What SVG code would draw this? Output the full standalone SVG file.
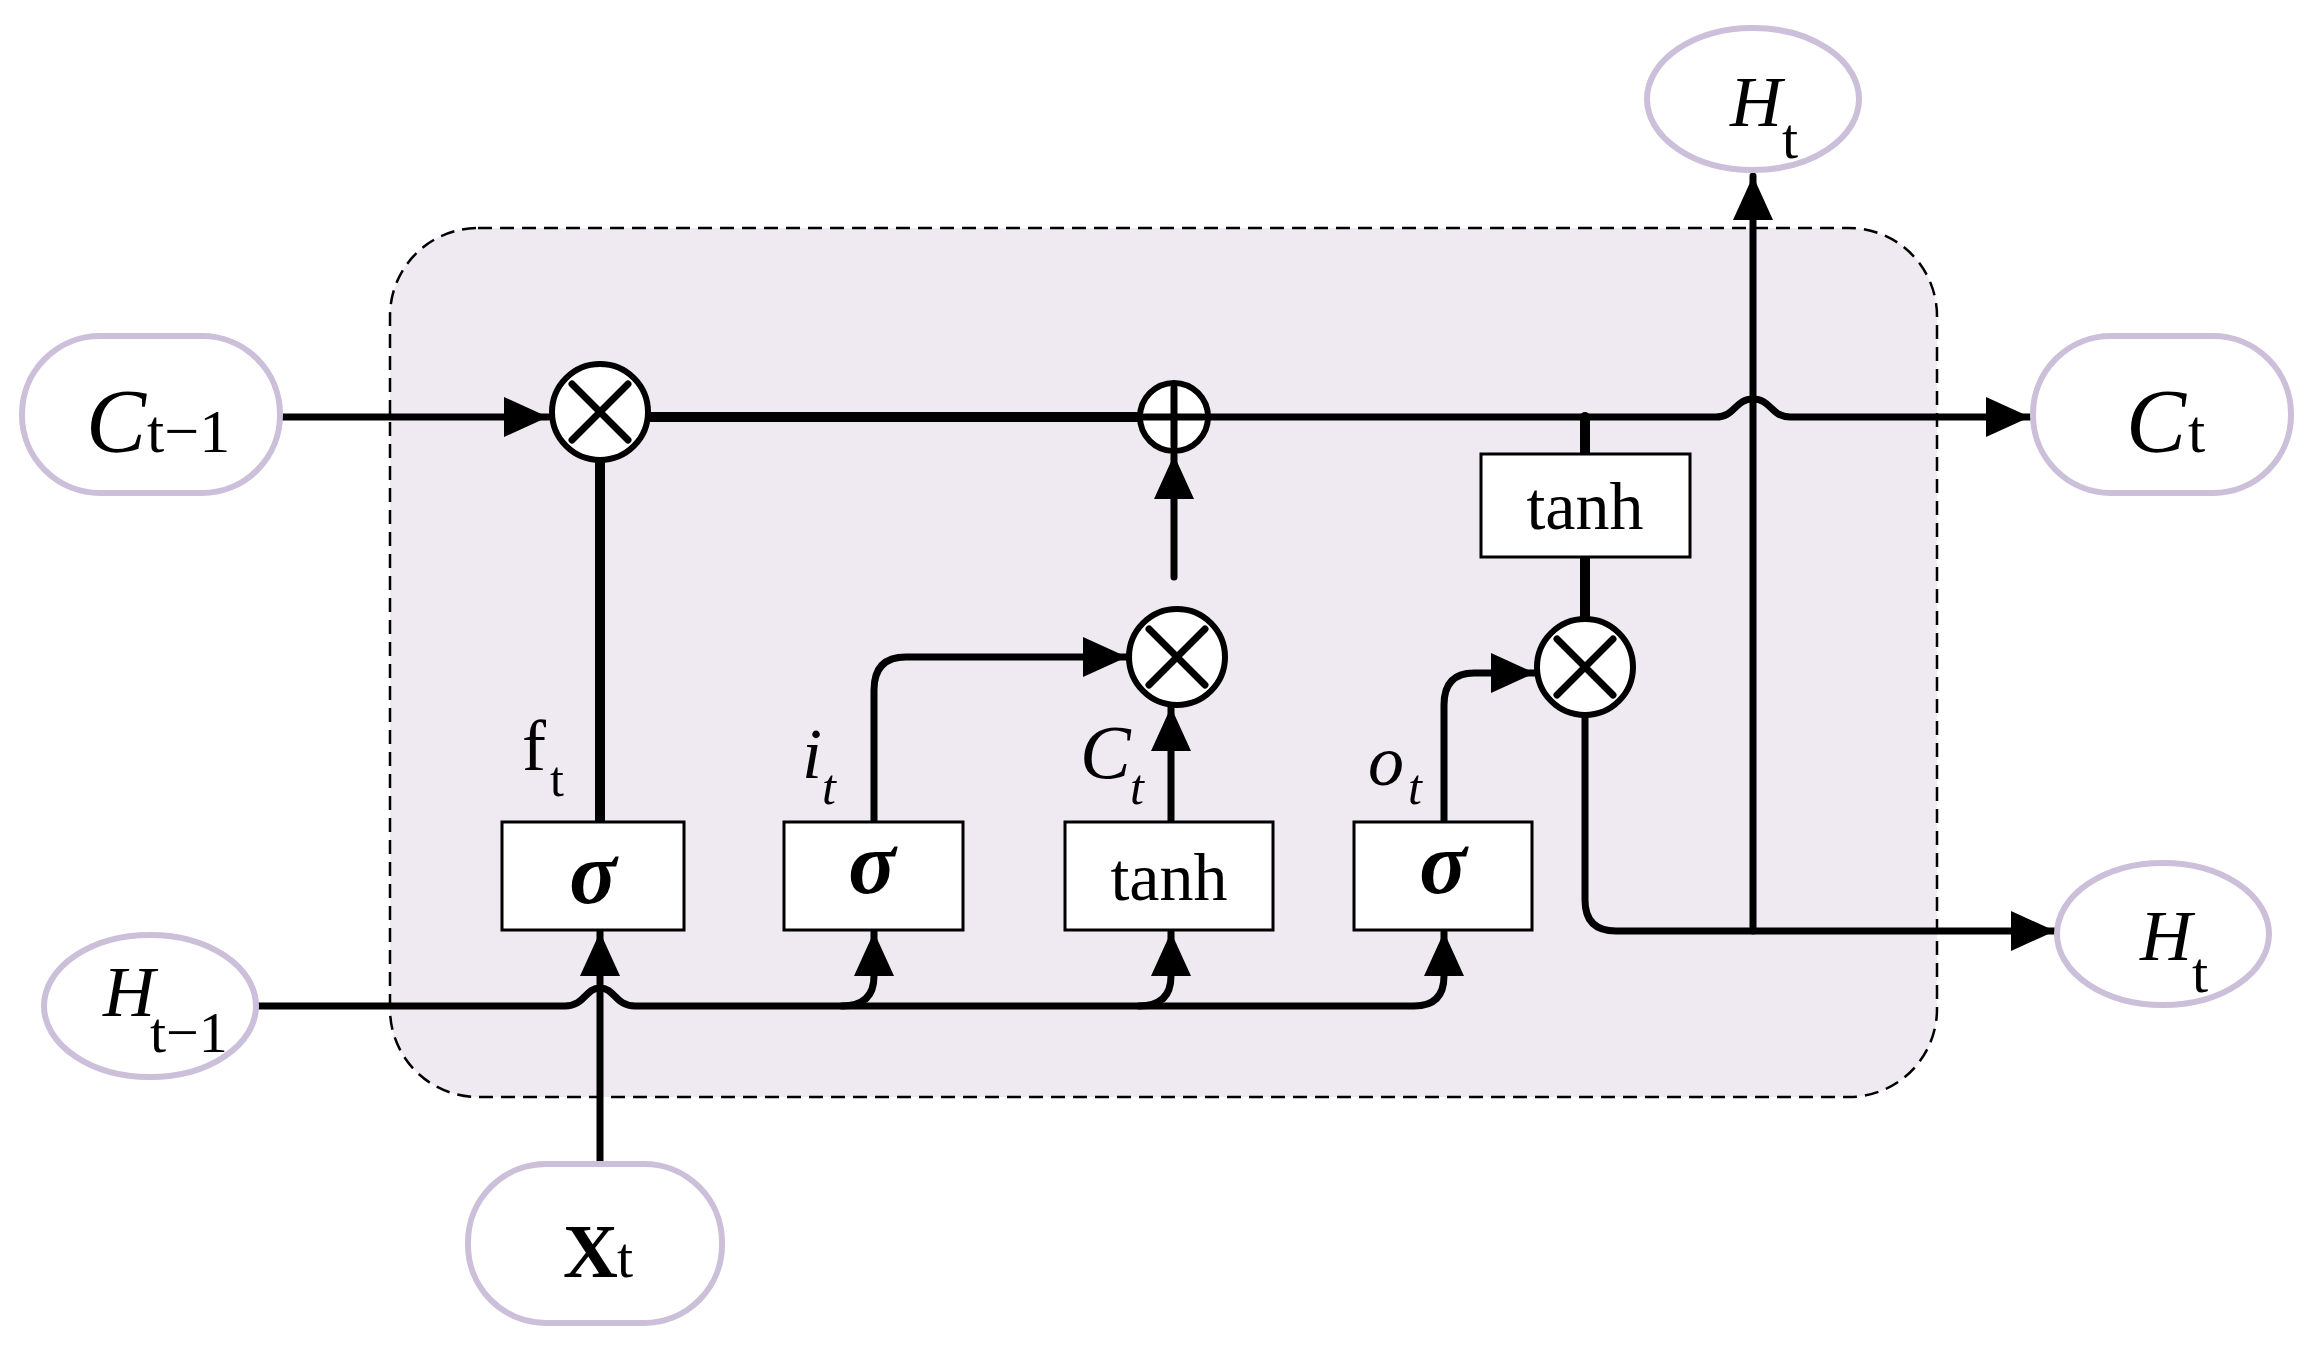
<svg xmlns="http://www.w3.org/2000/svg" width="2310" height="1351" viewBox="0 0 2310 1351">
<style>
.pill{fill:#fff;stroke:#cbbfda;stroke-width:6}
.box{fill:#fff;stroke:#000;stroke-width:3}
.op{fill:#fff;stroke:#000;stroke-width:6}
.ln{fill:none;stroke:#000;stroke-width:7;stroke-linecap:round;stroke-linejoin:round}
.thk{stroke-width:10}
text{font-family:"Liberation Serif","Times New Roman",serif;fill:#000}
.i{font-style:italic}
</style>
<defs>
<marker id="ah" markerUnits="userSpaceOnUse" markerWidth="46" markerHeight="40" refX="44" refY="20" orient="auto" viewBox="0 0 46 40"><path d="M0,0 L44,20 L0,40 z" fill="#000"/></marker>
</defs>
<rect id="cell" x="390" y="228" width="1547" height="869" rx="88" fill="#efe9f1" stroke="#000" stroke-width="2.5" stroke-dasharray="14,8"/>
<g id="connectors">
<path class="ln" d="M280,417 H548" marker-end="url(#ah)"/>
<path class="ln thk" d="M648,417 H1140"/>
<path class="ln" d="M1209,417 H1716 C1735,417 1735,399 1753,399 C1771,399 1771,417 1790,417 H2030" marker-end="url(#ah)"/>
<path class="ln thk" d="M600,460 V822"/>
<path class="ln" d="M600,1164 V932" marker-end="url(#ah)"/>
<path class="ln" d="M258,1006 H565 C585,1006 585,988 600,988 C615,988 615,1006 635,1006 H1414 Q1444,1006 1444,976 V932" marker-end="url(#ah)"/>
<path class="ln" d="M842,1006 Q874,1006 874,976 V932" marker-end="url(#ah)"/>
<path class="ln" d="M1139,1006 Q1171,1006 1171,976 V932" marker-end="url(#ah)"/>
<path class="ln" d="M874,822 V690 Q874,657 906,657 H1127" marker-end="url(#ah)"/>
<path class="ln" d="M1171,822 V707" marker-end="url(#ah)"/>
<path class="ln" d="M1174,577 V455" marker-end="url(#ah)"/>
<path class="ln" d="M1444,822 V705 Q1444,673 1474,673 H1535" marker-end="url(#ah)"/>
<path class="ln thk" d="M1585,417 V454"/>
<path class="ln thk" d="M1585,557 V619"/>
<path class="ln" d="M1585,715 V900 Q1585,931 1616,931 H2055" marker-end="url(#ah)"/>
<path class="ln" d="M1753,931 V176" marker-end="url(#ah)"/>
</g>
<g id="c_prev"><rect class="pill" x="22" y="336" width="258" height="157" rx="78"/><text x="86" y="452" font-size="90" class="i">C</text><text x="147" y="452" font-size="62">t−1</text></g>
<g id="h_prev"><ellipse class="pill" cx="150" cy="1006" rx="106" ry="71"/><text x="103" y="1016" font-size="72" class="i">H</text><text x="150" y="1052" font-size="58">t−1</text></g>
<g id="x_t"><rect class="pill" x="468" y="1164" width="254" height="159" rx="78"/><text x="563" y="1277" font-size="76" font-weight="bold">X</text><text x="617" y="1277" font-size="58">t</text></g>
<g id="h_top"><ellipse class="pill" cx="1753" cy="99" rx="106" ry="71"/><text x="1730" y="126" font-size="72" class="i">H</text><text x="1782" y="158" font-size="58">t</text></g>
<g id="c_t"><rect class="pill" x="2033" y="336" width="258" height="157" rx="78"/><text x="2126" y="452" font-size="90" class="i">C</text><text x="2188" y="452" font-size="62">t</text></g>
<g id="h_right"><ellipse class="pill" cx="2163" cy="934" rx="106" ry="71"/><text x="2140" y="960" font-size="72" class="i">H</text><text x="2192" y="992" font-size="58">t</text></g>
<g id="mul1"><circle class="op" cx="600" cy="412" r="48"/><path class="ln" d="M572,384 L628,440 M628,384 L572,440" stroke-width="6"/></g>
<g id="add"><circle class="op" cx="1174" cy="417" r="34"/><path class="ln" d="M1174,388 V446 M1145,417 H1203" stroke-width="6"/></g>
<g id="mul2"><circle class="op" cx="1177" cy="657" r="48"/><path class="ln" d="M1149,629 L1205,685 M1205,629 L1149,685" stroke-width="6"/></g>
<g id="mul3"><circle class="op" cx="1585" cy="667" r="48"/><path class="ln" d="M1557,639 L1613,695 M1613,639 L1557,695" stroke-width="6"/></g>
<g id="forget"><rect class="box" x="502" y="822" width="182" height="108"/><text x="593" y="903" font-size="88" class="i" font-weight="bold" text-anchor="middle">σ</text><text x="522" y="770" font-size="72">f</text><text x="550" y="796" font-size="50">t</text></g>
<g id="input"><rect class="box" x="784" y="822" width="179" height="108"/><text x="872" y="893" font-size="88" class="i" font-weight="bold" text-anchor="middle">σ</text><text x="802" y="778" font-size="72" class="i">i</text><text x="822" y="804" font-size="50" class="i">t</text></g>
<g id="cand"><rect class="box" x="1065" y="822" width="208" height="108"/><text x="1169" y="900" font-size="68" text-anchor="middle">tanh</text><text x="1080" y="778" font-size="76" class="i">C</text><text x="1130" y="804" font-size="50" class="i">t</text></g>
<g id="output"><rect class="box" x="1354" y="822" width="178" height="108"/><text x="1443" y="893" font-size="88" class="i" font-weight="bold" text-anchor="middle">σ</text><text x="1368" y="785" font-size="72" class="i">o</text><text x="1408" y="804" font-size="50" class="i">t</text></g>
<g id="tanh2"><rect class="box" x="1481" y="454" width="209" height="103"/><text x="1585" y="529" font-size="68" text-anchor="middle">tanh</text></g>
</svg>
